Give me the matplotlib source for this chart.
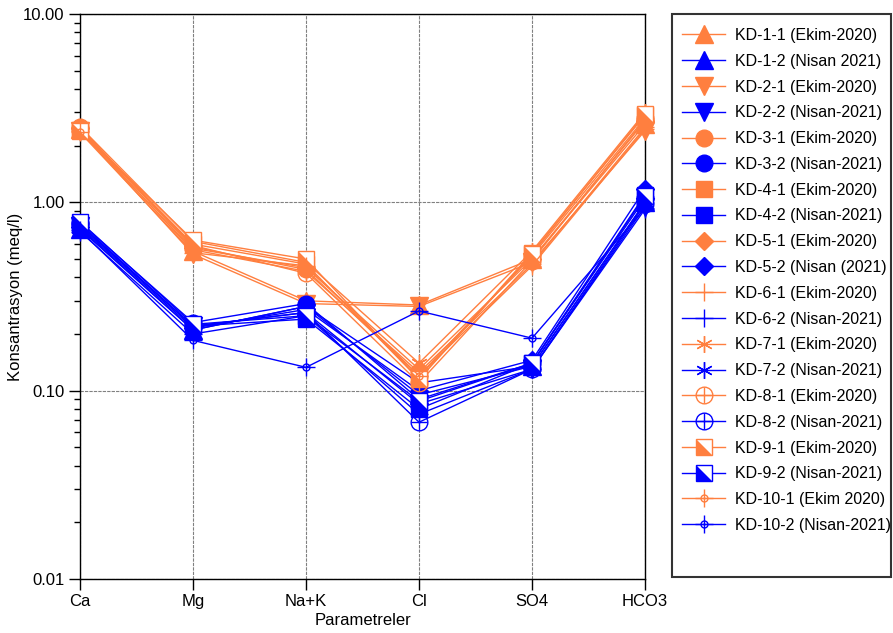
import matplotlib
matplotlib.use("Agg")
import matplotlib.pyplot as plt
from matplotlib.patches import Rectangle
from matplotlib.legend_handler import HandlerTuple
import numpy as np

plt.rcParams['font.family'] = ['Liberation Sans', 'DejaVu Sans']

params = ["Ca", "Mg", "Na+K", "Cl", "SO4", "HCO3"]

labels = [
    "KD-1-1 (Ekim-2020)", "KD-1-2 (Nisan 2021)",
    "KD-2-1 (Ekim-2020)", "KD-2-2 (Nisan-2021)",
    "KD-3-1 (Ekim-2020)", "KD-3-2 (Nisan-2021)",
    "KD-4-1 (Ekim-2020)", "KD-4-2 (Nisan-2021)",
    "KD-5-1 (Ekim-2020)", "KD-5-2 (Nisan (2021)",
    "KD-6-1 (Ekim-2020)", "KD-6-2 (Nisan-2021)",
    "KD-7-1 (Ekim-2020)", "KD-7-2 (Nisan-2021)",
    "KD-8-1 (Ekim-2020)", "KD-8-2 (Nisan-2021)",
    "KD-9-1 (Ekim-2020)", "KD-9-2 (Nisan-2021)",
    "KD-10-1 (Ekim 2020)", "KD-10-2 (Nisan-2021)",
]

# Ekim-2020 (October) values, meq/l: Ca, Mg, Na+K, Cl, SO4, HCO3
kd1_1 = [2.45, 0.55, 0.30, 0.285, 0.50, 2.60]
kd2_1 = [2.40, 0.53, 0.29, 0.280, 0.48, 2.40]
kd3_1 = [2.50, 0.58, 0.44, 0.120, 0.52, 2.80]
kd4_1 = [2.42, 0.60, 0.47, 0.115, 0.54, 2.90]
kd5_1 = [2.48, 0.57, 0.45, 0.130, 0.50, 2.70]
kd6_1 = [2.38, 0.56, 0.43, 0.125, 0.47, 2.50]
kd7_1 = [2.52, 0.62, 0.48, 0.140, 0.55, 3.00]
kd8_1 = [2.45, 0.59, 0.42, 0.110, 0.49, 2.75]
kd9_1 = [2.40, 0.63, 0.50, 0.115, 0.53, 2.95]
kd10_1 = [2.35, 0.54, 0.46, 0.120, 0.46, 2.45]

# Nisan-2021 (April) values
kd1_2 = [0.72, 0.210, 0.28, 0.095, 0.135, 1.00]
kd2_2 = [0.75, 0.220, 0.26, 0.085, 0.130, 0.95]
kd3_2 = [0.78, 0.230, 0.29, 0.090, 0.140, 1.05]
kd4_2 = [0.76, 0.220, 0.24, 0.080, 0.140, 1.10]
kd5_2 = [0.74, 0.215, 0.27, 0.100, 0.145, 1.18]
kd6_2 = [0.70, 0.200, 0.25, 0.075, 0.130, 0.92]
kd7_2 = [0.73, 0.210, 0.28, 0.110, 0.135, 1.00]
kd8_2 = [0.77, 0.220, 0.26, 0.068, 0.130, 0.98]
kd9_2 = [0.79, 0.225, 0.25, 0.088, 0.140, 1.08]
kd10_2 = [0.71, 0.185, 0.133, 0.265, 0.190, 0.93]

series = [kd1_1, kd1_2, kd2_1, kd2_2, kd3_1, kd3_2, kd4_1, kd4_2, kd5_1, kd5_2,
          kd6_1, kd6_2, kd7_1, kd7_2, kd8_1, kd8_2, kd9_1, kd9_2, kd10_1, kd10_2]

ORANGE = '#FF7F3F'
BLUE = '#0000FF'

fig = plt.figure(figsize=(8.93, 6.33), dpi=100)
ax = fig.add_axes([80/893, 1-579/633, (645-80)/893, (579-14)/633])

x = np.arange(len(params))
tri_ll = [(-1, -1), (1, -1), (-1, 1), (-1, -1)]

handles = []
for i, (vals, lab) in enumerate(zip(series, labels)):
    c = ORANGE if i % 2 == 0 else BLUE
    k = i // 2
    base = dict(color=c, lw=1, clip_on=False, zorder=3)
    if k == 0:
        h, = ax.plot(x, vals, marker='^', ms=13, mec=c, mfc=c, **base)
        handles.append(h)
    elif k == 1:
        h, = ax.plot(x, vals, marker='v', ms=13, mec=c, mfc=c, **base)
        handles.append(h)
    elif k == 2:
        h, = ax.plot(x, vals, marker='o', ms=12, mec=c, mfc=c, **base)
        handles.append(h)
    elif k == 3:
        h, = ax.plot(x, vals, marker='s', ms=11, mec=c, mfc=c, **base)
        handles.append(h)
    elif k == 4:
        h, = ax.plot(x, vals, marker='D', ms=9, mec=c, mfc=c, **base)
        handles.append(h)
    elif k == 5:
        h, = ax.plot(x, vals, marker='+', ms=13, mew=1, mec=c, **base)
        handles.append(h)
    elif k == 6:
        h, = ax.plot(x, vals, marker=(6, 2, 0), ms=12, mew=1, mec=c, **base)
        handles.append(h)
    elif k == 7:
        h, = ax.plot(x, vals, marker='o', ms=12, mew=1, mec=c, mfc='none', **base)
        h2, = ax.plot(x, vals, ls='none', marker='+', ms=12, mew=1, mec=c,
                      clip_on=False, zorder=3)
        handles.append((h, h2))
    elif k == 8:
        h, = ax.plot(x, vals, marker='s', ms=11, mew=1, mec=c, mfc='white', **base)
        h2, = ax.plot(x, vals, ls='none', marker=tri_ll, ms=11, mew=0, mfc=c,
                      clip_on=False, zorder=3.1)
        handles.append((h, h2))
    else:
        h, = ax.plot(x, vals, marker='o', ms=5, mew=1, mec=c, mfc='none', **base)
        h2, = ax.plot(x, vals, ls='none', marker='+', ms=13, mew=1, mec=c,
                      clip_on=False, zorder=3)
        handles.append((h, h2))

ax.set_yscale('log')
ax.set_ylim(0.01, 10)
ax.set_xlim(0, 5)
ax.set_xticks(x)
ax.set_xticklabels(params, fontsize=12)
ax.set_yticks([0.01, 0.1, 1, 10])
ax.set_yticklabels(["0.01", "0.10", "1.00", "10.00"], fontsize=12)
ax.tick_params(axis='both', which='major', direction='out', length=8, width=1, pad=3)
ax.tick_params(axis='y', which='minor', direction='out', length=4, width=1)
ax.tick_params(axis='x', which='minor', bottom=False)
ax.yaxis.set_minor_formatter(matplotlib.ticker.NullFormatter())
ax.grid(True, which='major', color='#808080', lw=0.8, ls=(0, (3, 1)), zorder=0)
for s in ax.spines.values():
    s.set_linewidth(1)
    s.set_color('black')

ax.set_ylabel("Konsantrasyon (meq/l)", fontsize=12, labelpad=0)
ax.set_xlabel("Parametreler", fontsize=12, labelpad=3)

# legend box frame
fig.patches.append(Rectangle((672/893, 1-577/633), (891-672)/893, (577-14)/633,
                             transform=fig.transFigure, fill=False,
                             edgecolor='#333333', lw=1.5))

leg = fig.legend(handles, labels, loc='upper left',
                 bbox_to_anchor=(682/893, 1-28/633), frameon=False,
                 fontsize=11.5, handlelength=2.72, handletextpad=0.6,
                 labelspacing=0.675, borderpad=0, borderaxespad=0,
                 handler_map={tuple: HandlerTuple(ndivide=1)})

fig.savefig("out.png", dpi=100)
